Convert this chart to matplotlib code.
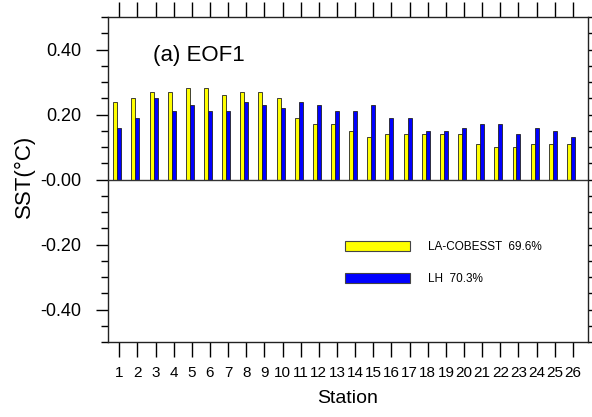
import matplotlib
matplotlib.use("Agg")
import matplotlib.pyplot as plt
from matplotlib.patches import Patch
from matplotlib.ticker import MultipleLocator, FixedLocator
import numpy as np

plt.rcParams['font.family'] = ['Liberation Sans', 'DejaVu Sans']

stations = list(range(1, 27))
station_labels = [str(s) for s in stations]
la_cobesst = [0.24, 0.25, 0.27, 0.27, 0.28, 0.28, 0.26, 0.27, 0.27, 0.25,
              0.19, 0.17, 0.17, 0.15, 0.13, 0.14, 0.14, 0.14, 0.14, 0.14,
              0.11, 0.10, 0.10, 0.11, 0.11, 0.11]
lh = [0.16, 0.19, 0.25, 0.21, 0.23, 0.21, 0.21, 0.24, 0.23, 0.22,
      0.24, 0.23, 0.21, 0.21, 0.23, 0.19, 0.19, 0.15, 0.15, 0.16,
      0.17, 0.17, 0.14, 0.16, 0.15, 0.13]
series_names = ['LA-COBESST  69.6%', 'LH  70.3%']
yticks = [0.4, 0.2, 0.0, -0.2, -0.4]
ytick_labels = ['0.40', '0.20', '-0.00', '-0.20', '-0.40']

W, H = 592, 417
fig = plt.figure(figsize=(W / 100, H / 100), dpi=100)
L, R, T, B = 108, 588, 17, 342
ax = fig.add_axes([L / W, 1 - B / H, (R - L) / W, (B - T) / H])

x = np.array(stations, dtype=float)
bw = 0.22
ax.bar(x - bw, la_cobesst, width=bw, color='#ffff00', edgecolor='#222222',
       linewidth=0.6, zorder=3)
ax.bar(x, lh, width=bw, color='#0000ff', edgecolor='#222222',
       linewidth=0.6, zorder=3)
ax.axhline(0, color='#333333', linewidth=1.0, zorder=4)

ax.set_xlim(0.38, 26.83)
ax.set_ylim(-0.5, 0.5)

ax.xaxis.set_major_locator(FixedLocator(stations))
ax.set_xticklabels(station_labels, fontsize=11)
ax.set_yticks(yticks)
ax.set_yticklabels(ytick_labels, fontsize=13)
ax.yaxis.set_minor_locator(MultipleLocator(0.05))

ax.tick_params(axis='x', which='major', direction='out', length=11, width=1.0,
               top=True, bottom=True, pad=6)
ax.tick_params(axis='y', which='major', direction='out', length=9, width=1.0,
               left=True, right=True, pad=10)
ax.tick_params(axis='y', which='minor', direction='out', length=5, width=1.0,
               left=True, right=True)
for s in ax.spines.values():
    s.set_linewidth(1.0)
    s.set_color('#222222')

ax.set_xlabel('Station', fontsize=14)
ax.xaxis.set_label_coords(0.5, -0.148)
ax.set_ylabel('SST(°C)', fontsize=16)
ax.yaxis.set_label_coords(-0.153, 0.51)

ax.text(0.094, 0.883, '(a) EOF1', transform=ax.transAxes, fontsize=16,
        ha='left', va='center')

handles = [Patch(facecolor='#ffff00', edgecolor='#444444', linewidth=0.8),
           Patch(facecolor='#0000ff', edgecolor='#444444', linewidth=0.8)]
leg = ax.legend(handles, series_names, loc='upper left',
                bbox_to_anchor=((345 - L) / (R - L), (B - 241) / (B - T)),
                frameon=False, fontsize=8.5, handlelength=5.5,
                handleheight=0.95, handletextpad=1.5, labelspacing=1.65,
                borderpad=0, borderaxespad=0)

fig.savefig('out.png', dpi=100)
